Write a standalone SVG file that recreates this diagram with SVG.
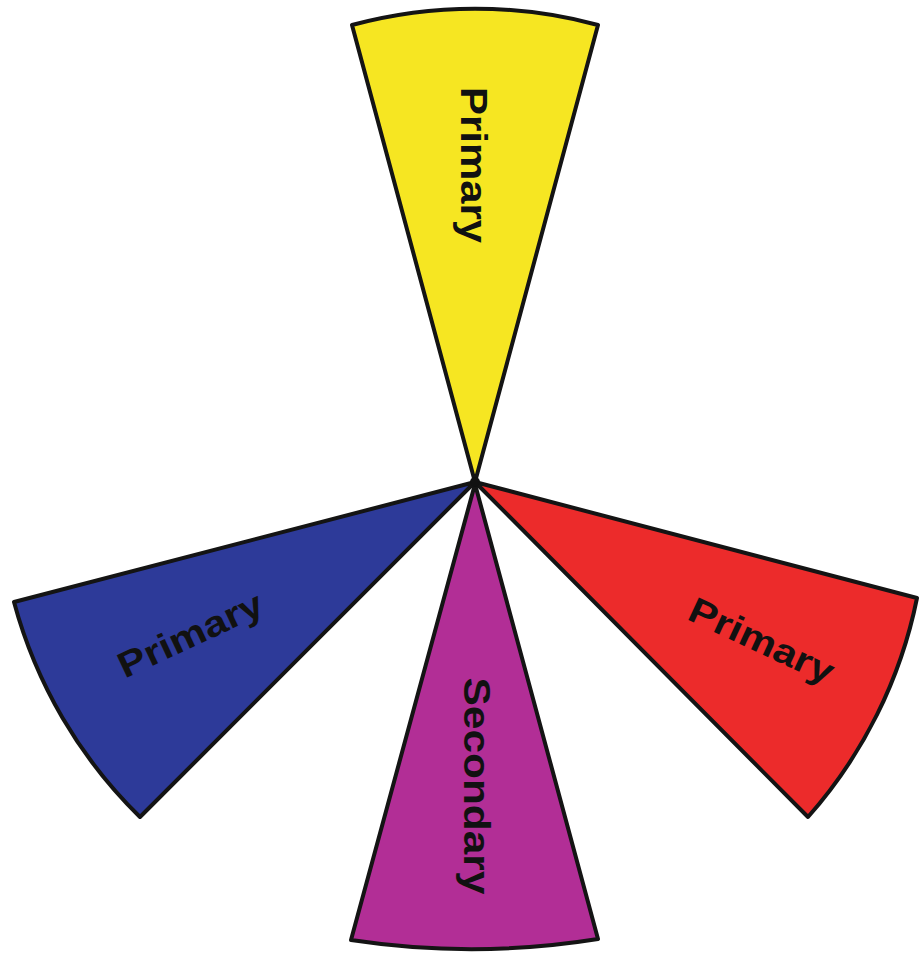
<svg xmlns="http://www.w3.org/2000/svg" width="920" height="955" viewBox="0 0 920 955">
<style>
.w{stroke:#141414;stroke-width:4;stroke-linejoin:round}
.t{font-family:"Liberation Sans",Arial,sans-serif;font-weight:bold;fill:#111;text-anchor:middle}
</style>
<rect width="920" height="955" fill="#ffffff"/>
<g id="yellow">
<path class="w" fill="#F6E622" d="M475,482 L352,25 A473,473 0 0 1 598,25 Z"/>
<text class="t" font-size="36" textLength="156" lengthAdjust="spacingAndGlyphs" transform="translate(473.5,165) rotate(90)" y="13">Primary</text>
</g>
<g id="red">
<path class="w" fill="#EC2B2B" d="M475,482 L917,598 A470,470 0 0 1 808,817 Z"/>
<text class="t" font-size="36" textLength="156" lengthAdjust="spacingAndGlyphs" transform="translate(762,640) rotate(25)" y="13">Primary</text>
</g>
<g id="purple">
<path class="w" fill="#B22E96" d="M475,484 L598,939 A800,800 0 0 1 351,940 Z"/>
<text class="t" font-size="37" textLength="217" lengthAdjust="spacingAndGlyphs" transform="translate(477,786) rotate(90)" y="13">Secondary</text>
</g>
<g id="blue">
<path class="w" fill="#2D3A99" d="M475,482 L140,817 A473,473 0 0 1 14,602 Z"/>
<text class="t" font-size="36" textLength="156" lengthAdjust="spacingAndGlyphs" transform="translate(190,634) rotate(-25)" y="13">Primary</text>
</g>
<g id="connectors">
<circle cx="475" cy="482" r="5" fill="#111"/>
</g>
</svg>
